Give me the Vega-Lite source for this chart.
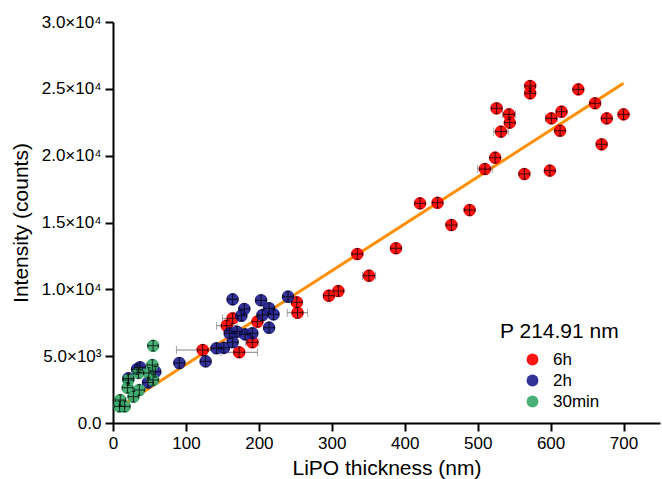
{
  "$schema": "https://vega.github.io/schema/vega-lite/v6.json",
  "width": 547,
  "height": 401,
  "autosize": "none",
  "padding": {"left": 113, "top": 22, "right": 2, "bottom": 56},
  "background": "white",
  "config": {
    "view": {"stroke": null},
    "font": "Liberation Sans",
    "axis": {
      "grid": false,
      "domainColor": "black",
      "domainWidth": 2,
      "tickColor": "black",
      "tickWidth": 2,
      "labelColor": "black",
      "labelFont": "Liberation Sans",
      "labelFontSize": 17,
      "titleFont": "Liberation Sans",
      "titleFontSize": 21,
      "titleFontWeight": "normal",
      "titleColor": "black"
    }
  },
  "datasets": {
    "pts": [
      {"x": 572, "y": 25210, "group": "6h"},
      {"x": 572, "y": 24665, "group": "6h"},
      {"x": 638, "y": 24960, "group": "6h"},
      {"x": 661, "y": 23920, "group": "6h"},
      {"x": 700, "y": 23090, "group": "6h"},
      {"x": 677, "y": 22790, "group": "6h"},
      {"x": 615, "y": 23290, "group": "6h"},
      {"x": 601, "y": 22790, "group": "6h", "xlo": 593, "xhi": 609},
      {"x": 613, "y": 21870, "group": "6h"},
      {"x": 670, "y": 20850, "group": "6h"},
      {"x": 526, "y": 23540, "group": "6h"},
      {"x": 543, "y": 23090, "group": "6h", "xlo": 534, "xhi": 552},
      {"x": 544, "y": 22470, "group": "6h"},
      {"x": 532, "y": 21800, "group": "6h", "xlo": 522, "xhi": 542},
      {"x": 524, "y": 19850, "group": "6h"},
      {"x": 510, "y": 19000, "group": "6h", "xlo": 500, "xhi": 520},
      {"x": 564, "y": 18630, "group": "6h"},
      {"x": 599, "y": 18880, "group": "6h"},
      {"x": 421, "y": 16430, "group": "6h"},
      {"x": 445, "y": 16480, "group": "6h"},
      {"x": 489, "y": 15930, "group": "6h"},
      {"x": 464, "y": 14810, "group": "6h"},
      {"x": 388, "y": 13070, "group": "6h"},
      {"x": 335, "y": 12640, "group": "6h"},
      {"x": 351, "y": 11020, "group": "6h", "xlo": 342, "xhi": 360},
      {"x": 309, "y": 9875, "group": "6h"},
      {"x": 296, "y": 9525, "group": "6h"},
      {"x": 252, "y": 9030, "group": "6h"},
      {"x": 253, "y": 8250, "group": "6h", "xlo": 239, "xhi": 267},
      {"x": 164, "y": 7830, "group": "6h", "xlo": 150, "xhi": 178},
      {"x": 156, "y": 7280, "group": "6h", "xlo": 142, "xhi": 170},
      {"x": 198, "y": 7580, "group": "6h"},
      {"x": 191, "y": 6040, "group": "6h", "xlo": 182, "xhi": 200},
      {"x": 173, "y": 5290, "group": "6h", "xlo": 148, "xhi": 198},
      {"x": 123, "y": 5460, "group": "6h", "xlo": 87, "xhi": 159},
      {"x": 240, "y": 9450, "group": "2h"},
      {"x": 164, "y": 9250, "group": "2h"},
      {"x": 203, "y": 9180, "group": "2h"},
      {"x": 180, "y": 8530, "group": "2h"},
      {"x": 214, "y": 8580, "group": "2h"},
      {"x": 220, "y": 8130, "group": "2h"},
      {"x": 205, "y": 8080, "group": "2h"},
      {"x": 176, "y": 8030, "group": "2h"},
      {"x": 214, "y": 7130, "group": "2h"},
      {"x": 160, "y": 6710, "group": "2h"},
      {"x": 170, "y": 6830, "group": "2h"},
      {"x": 181, "y": 6630, "group": "2h"},
      {"x": 191, "y": 6710, "group": "2h"},
      {"x": 164, "y": 6040, "group": "2h"},
      {"x": 142, "y": 5590, "group": "2h"},
      {"x": 152, "y": 5620, "group": "2h"},
      {"x": 127, "y": 4610, "group": "2h"},
      {"x": 91, "y": 4490, "group": "2h"},
      {"x": 33, "y": 4020, "group": "2h"},
      {"x": 21, "y": 3340, "group": "2h"},
      {"x": 58, "y": 3840, "group": "2h"},
      {"x": 48, "y": 3030, "group": "2h"},
      {"x": 37, "y": 4170, "group": "2h"},
      {"x": 55, "y": 5780, "group": "30min"},
      {"x": 54, "y": 4340, "group": "30min"},
      {"x": 55, "y": 3220, "group": "30min"},
      {"x": 49, "y": 3740, "group": "30min"},
      {"x": 35, "y": 3740, "group": "30min"},
      {"x": 36, "y": 2470, "group": "30min"},
      {"x": 20, "y": 2640, "group": "30min"},
      {"x": 21, "y": 3220, "group": "30min"},
      {"x": 28, "y": 1970, "group": "30min"},
      {"x": 10, "y": 1720, "group": "30min"},
      {"x": 9, "y": 1240, "group": "30min"},
      {"x": 16, "y": 1240, "group": "30min"}
    ],
    "fit": [
      {"x": 20, "y": 1570},
      {"x": 700, "y": 25410}
    ]
  },
  "layer": [
    {
      "data": {"name": "fit"},
      "mark": {"type": "line", "color": "#FF8F00", "strokeWidth": 3},
      "encoding": {
        "x": {
          "field": "x", "type": "quantitative",
          "scale": {"domain": [0, 750], "nice": false},
          "axis": {
            "values": [0, 50, 100, 150, 200, 250, 300, 350, 400, 450, 500, 550, 600, 650, 700, 750],
            "labelExpr": "datum.value % 100 === 0 && datum.value < 750 ? datum.label : ''",
            "tickSize": {"condition": {"test": "datum.value % 100 === 0", "value": 8}, "value": 4},
            "labelPadding": 4,
            "labelFlush": false,
            "labelOverlap": false,
            "title": "LiPO thickness (nm)",
            "titlePadding": 6
          }
        },
        "y": {
          "field": "y", "type": "quantitative",
          "scale": {"domain": [0, 30000], "nice": false},
          "axis": {
            "values": [0, 2500, 5000, 7500, 10000, 12500, 15000, 17500, 20000, 22500, 25000, 27500, 30000],
            "labelExpr": "datum.value % 5000 !== 0 ? '' : (datum.value === 0 ? '0.0' : (datum.value < 10000 ? format(datum.value / 1000, '.1f') + '×10³' : format(datum.value / 10000, '.1f') + '×10⁴'))",
            "tickSize": {"condition": {"test": "datum.value % 5000 === 0", "value": 8}, "value": 4},
            "labelPadding": 4,
            "labelFlush": false,
            "labelOverlap": false,
            "title": "Intensity (counts)",
            "titlePadding": 10
          }
        }
      }
    },
    {
      "data": {"name": "pts"},
      "transform": [{"filter": "isValid(datum.xlo)"}],
      "mark": {"type": "rule", "color": "#808080", "strokeWidth": 1},
      "encoding": {
        "x": {"field": "xlo", "type": "quantitative"},
        "x2": {"field": "xhi"},
        "y": {"field": "y", "type": "quantitative"}
      }
    },
    {
      "data": {"name": "pts"},
      "transform": [{"filter": "isValid(datum.xlo)"}],
      "mark": {"type": "tick", "orient": "vertical", "color": "#808080", "thickness": 1, "size": 8},
      "encoding": {
        "x": {"field": "xlo", "type": "quantitative"},
        "y": {"field": "y", "type": "quantitative"}
      }
    },
    {
      "data": {"name": "pts"},
      "transform": [{"filter": "isValid(datum.xlo)"}],
      "mark": {"type": "tick", "orient": "vertical", "color": "#808080", "thickness": 1, "size": 8},
      "encoding": {
        "x": {"field": "xhi", "type": "quantitative"},
        "y": {"field": "y", "type": "quantitative"}
      }
    },
    {
      "data": {"name": "pts"},
      "mark": {"type": "circle", "size": 160, "opacity": 0.92},
      "encoding": {
        "x": {"field": "x", "type": "quantitative"},
        "y": {"field": "y", "type": "quantitative"},
        "color": {
          "field": "group", "type": "nominal",
          "scale": {"domain": ["6h", "2h", "30min"], "range": ["#FF0000", "#20208F", "#38A86A"]},
          "legend": {
            "orient": "none",
            "legendX": 387,
            "legendY": 299,
            "title": "P 214.91 nm",
            "titleFontSize": 21,
            "titleFont": "Liberation Sans",
            "titleFontWeight": "normal",
            "titleColor": "black",
            "titlePadding": 9,
            "labelFontSize": 17,
            "labelFont": "Liberation Sans",
            "labelColor": "black",
            "symbolSize": 140,
            "symbolType": "circle",
            "symbolOffset": 24,
            "labelOffset": 12,
            "rowPadding": 3,
            "symbolStrokeWidth": 0
          }
        }
      }
    },
    {
      "data": {"name": "pts"},
      "mark": {
        "type": "point",
        "shape": "M-1,0H1M0,-1V1M-1,-0.35V0.35M1,-0.35V0.35M-0.35,-1H0.35M-0.35,1H0.35",
        "size": 110,
        "color": "black",
        "filled": false,
        "strokeWidth": 1,
        "opacity": 0.75
      },
      "encoding": {
        "x": {"field": "x", "type": "quantitative"},
        "y": {"field": "y", "type": "quantitative"}
      }
    }
  ]
}
